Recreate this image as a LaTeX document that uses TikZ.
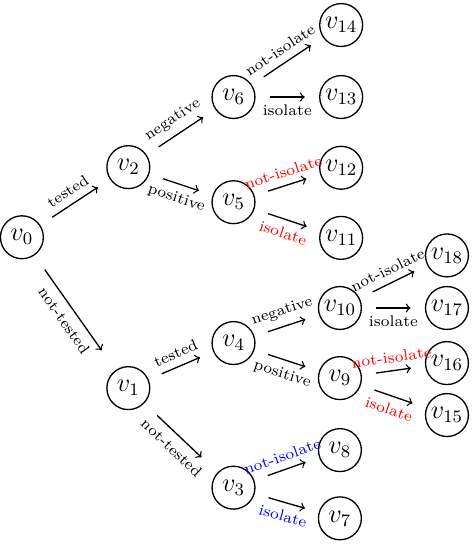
\documentclass[tikz,border=0pt]{standalone}
\usepackage{amsmath}
\usepackage{xcolor}
\usepackage{tikz}
\tikzset{
  vnode/.style={circle,draw,semithick,font=\large,inner sep=1pt,minimum size=19.5pt},
  branch/.style={->,semithick,shorten <=6.5pt,shorten >=6.5pt},
  lbl/.style={font=\scriptsize,sloped}
}

\begin{document}
\begin{tikzpicture}
\useasboundingbox (0,0) rectangle (7.54,-8.69);
% levels 0--2
\node[vnode] (v0) at (0.35,-3.79) {$v_0$};
\node[vnode] (v2) at (2.05,-2.67) {$v_2$};
\node[vnode] (v1) at (2.05,-6.20) {$v_1$};
\node[vnode] (v6) at (3.73,-1.55) {$v_6$};
\node[vnode] (v5) at (3.73,-3.23) {$v_5$};
\node[vnode] (v4) at (3.73,-5.48) {$v_4$};
\node[vnode] (v3) at (3.73,-7.79) {$v_3$};
% level 3
\node[vnode] (v14) at (5.45,-0.40) {$v_{14}$};
\node[vnode] (v13) at (5.45,-1.55) {$v_{13}$};
\node[vnode] (v12) at (5.45,-2.68) {$v_{12}$};
\node[vnode] (v11) at (5.45,-3.80) {$v_{11}$};
\node[vnode] (v10) at (5.43,-4.92) {$v_{10}$};
\node[vnode] (v9) at (5.43,-6.04) {$v_9$};
\node[vnode] (v8) at (5.43,-7.19) {$v_8$};
\node[vnode] (v7) at (5.43,-8.28) {$v_7$};
% level 4
\node[vnode] (v18) at (7.14,-4.08) {$v_{18}$};
\node[vnode] (v17) at (7.14,-4.92) {$v_{17}$};
\node[vnode] (v16) at (7.14,-5.80) {$v_{16}$};
\node[vnode] (v15) at (7.14,-6.63) {$v_{15}$};

\draw[branch] (v0) -- node[lbl,above]{tested} (v2);
\draw[branch,shorten <=8pt,shorten >=11pt] (v0) -- node[lbl,below]{not-tested} (v1);
\draw[branch] (v2) -- node[lbl,above]{negative} (v6);
\draw[branch] (v2) -- node[lbl,below]{positive} (v5);
\draw[branch] (v1) -- node[lbl,above]{tested} (v4);
\draw[branch,shorten <=8pt,shorten >=10pt] (v1) -- node[lbl,below]{not-tested} (v3);

\draw[branch] (v6) -- node[lbl,above]{not-isolate} (v14);
\draw[branch] (v6) -- node[lbl,below]{isolate} (v13);
\draw[branch] (v5) -- node[lbl,above,red]{not-isolate} (v12);
\draw[branch] (v5) -- node[lbl,below,red]{isolate} (v11);
\draw[branch] (v4) -- node[lbl,above]{negative} (v10);
\draw[branch] (v4) -- node[lbl,below]{positive} (v9);
\draw[branch] (v3) -- node[lbl,above,blue]{not-isolate} (v8);
\draw[branch] (v3) -- node[lbl,below,blue]{isolate} (v7);

\draw[branch] (v10) -- node[lbl,above]{not-isolate} (v18);
\draw[branch] (v10) -- node[lbl,below]{isolate} (v17);
\draw[branch] (v9) -- node[lbl,above,red]{not-isolate} (v16);
\draw[branch] (v9) -- node[lbl,below,red]{isolate} (v15);
\end{tikzpicture}
\end{document}
